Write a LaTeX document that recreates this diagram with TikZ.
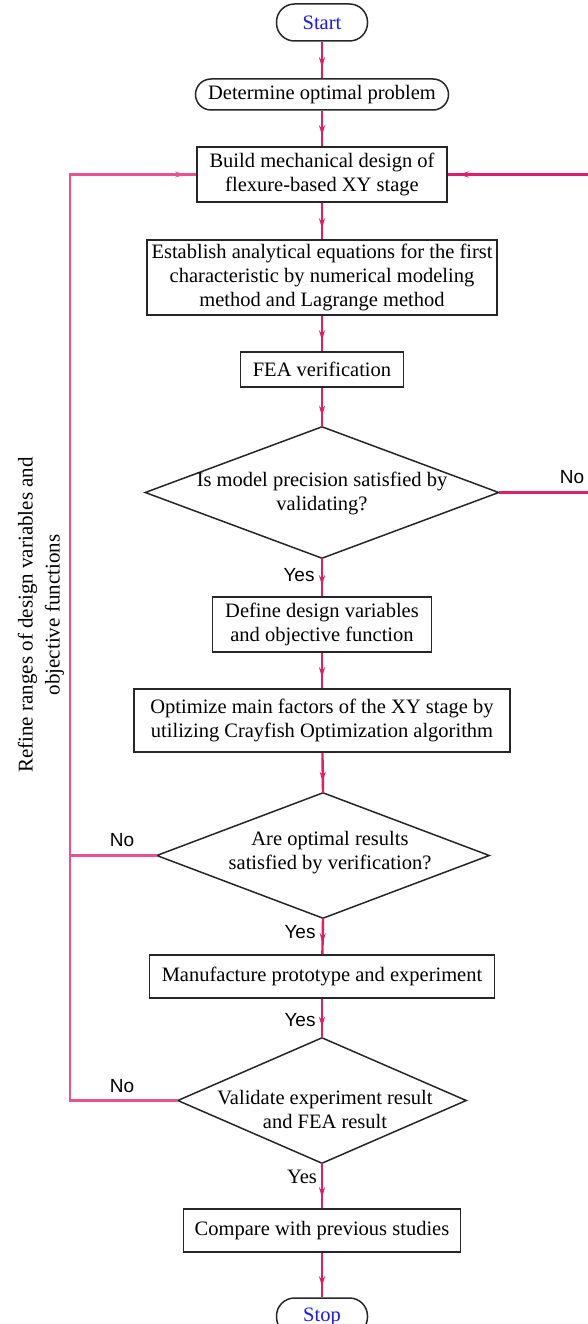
\documentclass[tikz,border=0pt]{standalone}
\usepackage{fontspec}
\setmainfont{Liberation Serif}
\newfontfamily\labelfont{Liberation Sans}
\usetikzlibrary{arrows.meta,decorations.markings,calc}
\definecolor{flowpink}{RGB}{224,28,108}
\definecolor{looppink}{RGB}{234,80,148}
\definecolor{termblue}{RGB}{25,25,240}
\begin{document}
\begin{tikzpicture}[x=1pt,y=-1pt,
  txt/.style={font=\fontsize{20.5}{24}\selectfont, align=center},
  box/.style={txt, draw=black!85, line width=1.5pt, rectangle, inner sep=0pt},
  term/.style={box, rounded corners=18pt, text=termblue},
  diaframe/.style={rectangle, inner sep=0pt},
  diashape/.style={draw=black!85, line width=1.5pt, line join=miter},
  yn/.style={font=\labelfont\fontsize{19}{22}\selectfont, inner sep=0pt},
  flow/.style={color=flowpink, line width=2.4pt, postaction={decorate},
    decoration={markings, mark=at position -11pt with {\arrow{Stealth[length=10pt,width=6pt]}}}},
  loopline/.style={color=looppink, line width=2.4pt},
  loopflow/.style={loopline, postaction={decorate},
    decoration={markings, mark=at position -11pt with {\arrow{Stealth[length=10pt,width=6pt]}}}},
]
\useasboundingbox (0,0) rectangle (588,1324);
\fill[white] (0,0) rectangle (588,1324);

% nodes
\node[term, minimum width=91pt, minimum height=37pt] (start) at (322,22.5) {Start};
\node[box, rounded corners=15.5pt, minimum width=253pt, minimum height=31pt] (det) at (322,94.5) {Determine optimal problem};
\node[box, minimum width=250pt, minimum height=55pt] (build) at (322,174.5) {Build mechanical design of\\flexure-based XY stage};
\node[box, minimum width=350pt, minimum height=75pt] (est) at (322,277.5) {Establish analytical equations for the first\\characteristic by numerical modeling\\method and Lagrange method};
\node[box, minimum width=163pt, minimum height=35pt] (fea) at (322,369.5) {FEA verification};

\node[diaframe, minimum width=353pt, minimum height=131pt] (d1) at (322,492.5) {};
\draw[diashape] (d1.north) -- (d1.east) -- (d1.south) -- (d1.west) -- cycle;
\node[txt] (d1t) at (322,493) {Is model precision satisfied by\\validating?};

\node[box, minimum width=219pt, minimum height=55pt] (def) at (322,624.5) {Define design variables\\and objective function};
\node[box, minimum width=376pt, minimum height=63pt] (opt) at (322,720.5) {Optimize main factors of the XY stage by\\utilizing Crayfish Optimization algorithm};

\node[diaframe, minimum width=332pt, minimum height=125pt] (d2) at (323,855.5) {};
\draw[diashape] (d2.north) -- (d2.east) -- (d2.south) -- (d2.west) -- cycle;
\node[txt] (d2t) at (330,853) {Are optimal results\\satisfied by verification?};

\node[box, minimum width=345pt, minimum height=43pt] (man) at (322,976.5) {Manufacture prototype and experiment};

\node[diaframe, minimum width=288pt, minimum height=125pt] (d3) at (322,1100.5) {};
\draw[diashape] (d3.north) -- (d3.east) -- (d3.south) -- (d3.west) -- cycle;
\node[txt] (d3t) at (325,1109) {Validate experiment result\\and FEA result};

\node[box, minimum width=277pt, minimum height=43pt] (cmp) at (322,1230.5) {Compare with previous studies};
\node[term, minimum width=91pt, minimum height=37pt] (stop) at (322,1316.5) {Stop};

% side text
\node[txt, rotate=90, font=\fontsize{21}{27}\selectfont] (refine) at (41,615) {Refine ranges of design variables and\\objective functions};

% labels
\node[yn] (no1) at (572,477) {No};
\node[yn] (yes1) at (299,575) {Yes};
\node[yn] (no2) at (122,840) {No};
\node[yn] (yes2) at (300,932) {Yes};
\node[yn] (yes3) at (300,1020) {Yes};
\node[yn] (no3) at (122,1086) {No};
\node[txt, inner sep=0pt] (yes4) at (302,1177) {Yes};

% main flow
\draw[flow] (start) -- (det);
\draw[flow] (det) -- (build);
\draw[flow] (build) -- (est);
\draw[flow] (est) -- (fea);
\draw[flow] (fea) -- (d1.north);
\draw[flow] (d1.south) -- (def);
\draw[flow] (def) -- (opt);
\draw[flow] (opt) -- (d2.north);
\draw[flow] (d2.south) -- (man);
\draw[flow] (man) -- (d3.north);
\draw[flow] (d3.south) -- (cmp);
\draw[flow] (cmp) -- (stop);

% right loop
\coordinate (rc) at (592,492.5);
\draw[flow] (d1.east) -- (rc) |- (build.east);

% left loop
\coordinate (lb) at (70,1100.5);
\draw[loopline] (d2.west) -- (d2.west -| lb);
\draw[loopflow] (d3.west) -- (lb) |- (build.west);
\end{tikzpicture}
\end{document}
